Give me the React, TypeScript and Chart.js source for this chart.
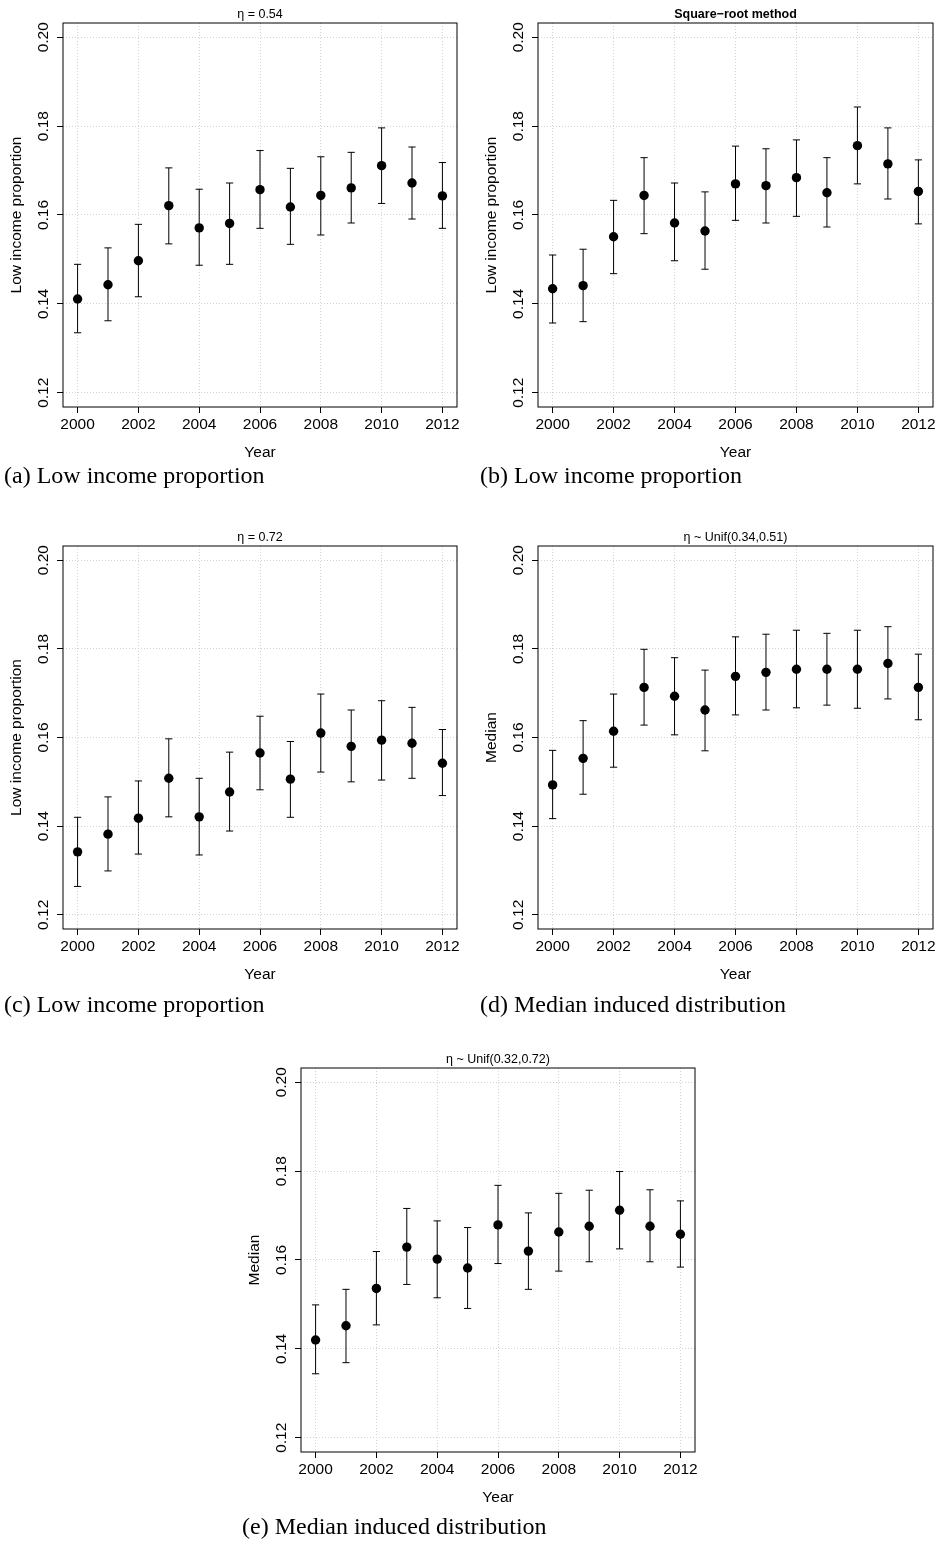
import React, { useEffect, useRef } from "react";
import { Chart, registerables } from "chart.js";

Chart.register(...registerables);

// ---------- data ----------
const years = [2000, 2001, 2002, 2003, 2004, 2005, 2006, 2007, 2008, 2009, 2010, 2011, 2012];
const xTickValues = [2000, 2002, 2004, 2006, 2008, 2010, 2012];
const yTickValues = [0.12, 0.14, 0.16, 0.18, 0.2];
const xLimits = [1999.52, 2012.48];
const yLimits = [0.1168, 0.2032];

const meanA = [0.1411, 0.1443, 0.1497, 0.1621, 0.1571, 0.1581, 0.1657, 0.1618, 0.1644, 0.1661, 0.1711, 0.1672, 0.1643];
const lowerA = [0.1335, 0.1362, 0.1416, 0.1535, 0.1487, 0.1489, 0.157, 0.1534, 0.1555, 0.1582, 0.1626, 0.1591, 0.157];
const upperA = [0.1489, 0.1526, 0.1579, 0.1706, 0.1658, 0.1672, 0.1745, 0.1705, 0.1731, 0.1741, 0.1796, 0.1753, 0.1718];

const meanB = [0.1434, 0.1441, 0.1551, 0.1644, 0.1582, 0.1564, 0.167, 0.1666, 0.1684, 0.165, 0.1756, 0.1715, 0.1653];
const lowerB = [0.1357, 0.136, 0.1468, 0.1558, 0.1497, 0.1478, 0.1588, 0.1582, 0.1597, 0.1573, 0.167, 0.1636, 0.158];
const upperB = [0.151, 0.1523, 0.1633, 0.1729, 0.1672, 0.1652, 0.1755, 0.1749, 0.1769, 0.1729, 0.1843, 0.1796, 0.1724];

const meanC = [0.1342, 0.1382, 0.1418, 0.1508, 0.1421, 0.1477, 0.1565, 0.1506, 0.161, 0.158, 0.1594, 0.1587, 0.1542];
const lowerC = [0.1264, 0.1299, 0.1337, 0.1421, 0.1335, 0.1389, 0.1482, 0.142, 0.1522, 0.15, 0.1504, 0.1508, 0.1469];
const upperC = [0.142, 0.1466, 0.1502, 0.1597, 0.1508, 0.1567, 0.1648, 0.1591, 0.1698, 0.1662, 0.1683, 0.1668, 0.1618];

const meanD = [0.1493, 0.1553, 0.1614, 0.1713, 0.1693, 0.1662, 0.1738, 0.1747, 0.1754, 0.1754, 0.1754, 0.1767, 0.1713];
const lowerD = [0.1417, 0.1472, 0.1533, 0.1628, 0.1606, 0.157, 0.1651, 0.1662, 0.1667, 0.1673, 0.1666, 0.1687, 0.164];
const upperD = [0.1571, 0.1638, 0.1698, 0.1799, 0.178, 0.1752, 0.1827, 0.1833, 0.1842, 0.1835, 0.1842, 0.185, 0.1788];

const meanE = [0.142, 0.1452, 0.1536, 0.1629, 0.1602, 0.1582, 0.1679, 0.162, 0.1663, 0.1676, 0.1712, 0.1676, 0.1658];
const lowerE = [0.1344, 0.1369, 0.1454, 0.1545, 0.1515, 0.1491, 0.1592, 0.1534, 0.1575, 0.1596, 0.1625, 0.1596, 0.1584];
const upperE = [0.1499, 0.1534, 0.1619, 0.1716, 0.1688, 0.1673, 0.1768, 0.1706, 0.175, 0.1757, 0.1799, 0.1758, 0.1733];

const titles = ["η = 0.54", "Square−root method", "η = 0.72", "η ~ Unif(0.34,0.51)", "η ~ Unif(0.32,0.72)"];
const yTitles = ["Low income proportion", "Low income proportion", "Low income proportion", "Median", "Median"];
const xTitle = "Year";
const captions = [
  "(a) Low income proportion",
  "(b) Low income proportion",
  "(c) Low income proportion",
  "(d) Median induced distribution",
  "(e) Median induced distribution",
];

// ---------- layout ----------
const SANS = '"Liberation Sans", Arial, Helvetica, sans-serif';
const SERIF = '"Liberation Serif", "Times New Roman", Times, serif';

type PanelCfg = {
  left: number; top: number; width: number; height: number;
  plotL: number; plotT: number; plotR: number; plotB: number;
  title: string; bold: boolean; yTitle: string;
  mean: number[]; lower: number[]; upper: number[];
};

const panels: PanelCfg[] = [
  { left: 0, top: 0, width: 470, height: 470, plotL: 63, plotT: 23, plotR: 457, plotB: 407, title: titles[0], bold: false, yTitle: yTitles[0], mean: meanA, lower: lowerA, upper: upperA },
  { left: 470, top: 0, width: 470, height: 470, plotL: 538, plotT: 23, plotR: 933, plotB: 407, title: titles[1], bold: true, yTitle: yTitles[1], mean: meanB, lower: lowerB, upper: upperB },
  { left: 0, top: 523, width: 470, height: 469, plotL: 63, plotT: 546, plotR: 457, plotB: 929, title: titles[2], bold: false, yTitle: yTitles[2], mean: meanC, lower: lowerC, upper: upperC },
  { left: 470, top: 523, width: 470, height: 469, plotL: 538, plotT: 546, plotR: 933, plotB: 929, title: titles[3], bold: false, yTitle: yTitles[3], mean: meanD, lower: lowerD, upper: upperD },
  { left: 238, top: 1045, width: 470, height: 470, plotL: 301, plotT: 1068, plotR: 695, plotB: 1452, title: titles[4], bold: false, yTitle: yTitles[4], mean: meanE, lower: lowerE, upper: upperE },
];

const captionPos = [
  { left: 4, top: 463 },
  { left: 480, top: 463 },
  { left: 4, top: 992 },
  { left: 480, top: 992 },
  { left: 242, top: 1514 },
];

const framePlugin = {
  id: "frame",
  afterDraw(chart: any) {
    const { ctx, chartArea: a } = chart;
    ctx.save();
    ctx.strokeStyle = "#000";
    ctx.lineWidth = 1;
    ctx.strokeRect(a.left, a.top, a.right - a.left, a.bottom - a.top);
    ctx.restore();
  },
};

function Panel({ cfg }: { cfg: PanelCfg }) {
  const ref = useRef<HTMLCanvasElement>(null);
  useEffect(() => {
    const canvas = ref.current!;
    const yWidth = cfg.plotL - cfg.left;
    const padRight = cfg.left + cfg.width - cfg.plotR;
    const titleH = cfg.plotT - cfg.top;
    const xHeight = cfg.top + cfg.height - cfg.plotB;
    const tickFont = { family: SANS, size: 15.5, lineHeight: 1.2 };

    const errData: any[] = [];
    years.forEach((x, i) => {
      errData.push({ x, y: cfg.lower[i] }, { x, y: cfg.upper[i] }, { x, y: null });
    });

    const chart = new Chart(canvas, {
      type: "scatter",
      data: {
        datasets: [
          {
            type: "scatter",
            data: years.map((x, i) => ({ x, y: cfg.mean[i] })),
            pointRadius: 4.7,
            pointBackgroundColor: "#000",
            pointBorderColor: "#000",
            pointBorderWidth: 0,
          },
          {
            type: "scatter",
            data: years.map((x, i) => ({ x, y: cfg.lower[i] })),
            pointStyle: "line",
            pointRadius: 3.6,
            pointBorderColor: "#000",
            pointBorderWidth: 1,
          },
          {
            type: "scatter",
            data: years.map((x, i) => ({ x, y: cfg.upper[i] })),
            pointStyle: "line",
            pointRadius: 3.6,
            pointBorderColor: "#000",
            pointBorderWidth: 1,
          },
          {
            type: "line",
            data: errData,
            showLine: true,
            spanGaps: false,
            pointRadius: 0,
            borderColor: "#000",
            borderWidth: 1,
            fill: false,
          },
        ] as any,
      },
      options: {
        animation: false,
        responsive: false,
        devicePixelRatio: 1,
        events: [],
        layout: { padding: { left: 0, right: padRight, top: 0, bottom: 0 } },
        plugins: {
          legend: { display: false },
          tooltip: { enabled: false },
          title: {
            display: true,
            text: cfg.title,
            fullSize: false,
            color: "#000",
            font: { family: SANS, size: 12.5, weight: cfg.bold ? "bold" : "normal", lineHeight: 1.2 },
            padding: { top: 7.1, bottom: titleH - 15 - 7.1 },
          },
        },
        scales: {
          x: {
            type: "linear",
            min: xLimits[0],
            max: xLimits[1],
            afterBuildTicks: (s: any) => {
              s.ticks = xTickValues.map((v) => ({ value: v }));
            },
            afterFit: (s: any) => {
              s.height = xHeight;
            },
            ticks: {
              callback: (v: any) => String(v),
              color: "#000",
              font: tickFont,
              padding: 2.25,
              minRotation: 0,
              maxRotation: 0,
              autoSkip: false,
            },
            grid: { color: "#d3d3d3", lineWidth: 1, tickColor: "#000", tickLength: 6, tickWidth: 1 },
            border: { display: false, dash: [1, 2] },
            title: { display: true, text: xTitle, color: "#000", font: tickFont, padding: { top: 0, bottom: 8.2 } },
          },
          y: {
            type: "linear",
            min: yLimits[0],
            max: yLimits[1],
            afterBuildTicks: (s: any) => {
              s.ticks = yTickValues.map((v) => ({ value: v }));
            },
            afterFit: (s: any) => {
              s.width = yWidth;
            },
            ticks: {
              callback: (v: any) => Number(v).toFixed(2),
              color: "#000",
              font: tickFont,
              padding: -1.85,
              minRotation: 90,
              maxRotation: 90,
              crossAlign: "center",
              autoSkip: false,
            },
            grid: { color: "#d3d3d3", lineWidth: 1, tickColor: "#000", tickLength: 6, tickWidth: 1 },
            border: { display: false, dash: [1, 2] },
            title: { display: true, text: cfg.yTitle, color: "#000", font: tickFont, padding: { top: yWidth - 46.4 - 9.3, bottom: 0 } },
          },
        },
      } as any,
      plugins: [framePlugin],
    });
    return () => chart.destroy();
  }, [cfg]);

  return (
    <canvas
      ref={ref}
      width={cfg.width}
      height={cfg.height}
      style={{ position: "absolute", left: cfg.left, top: cfg.top, width: cfg.width, height: cfg.height, display: "block" }}
    />
  );
}

export default function App() {
  return (
    <div style={{ position: "absolute", left: 0, top: 0, width: 940, height: 1542, background: "#fff", overflow: "hidden" }}>
      {panels.map((p, i) => (
        <Panel key={i} cfg={p} />
      ))}
      {captions.map((c, i) => (
        <div
          key={"c" + i}
          style={{
            position: "absolute",
            left: captionPos[i].left,
            top: captionPos[i].top,
            fontFamily: SERIF,
            fontSize: 24,
            lineHeight: "24px",
            whiteSpace: "nowrap",
            color: "#000",
          }}
        >
          {c}
        </div>
      ))}
    </div>
  );
}
